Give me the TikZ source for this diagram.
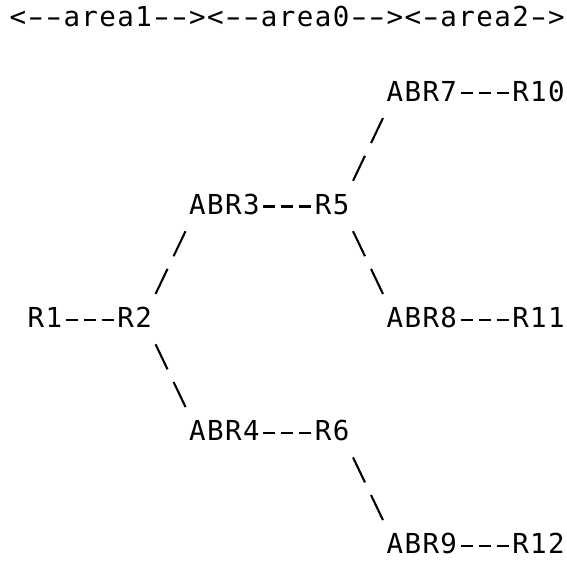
\documentclass[tikz,border=0pt]{standalone}
\usepackage{fontspec}
\usepackage{graphicx}
\newfontfamily\asciimono{DejaVu Sans Mono}
\usetikzlibrary{calc}
\newlength\gridpitch
\setlength\gridpitch{17.95pt}
\makeatletter
\def\gridtext#1{\gridtext@loop#1\relax}
\def\gridtext@loop#1{\ifx\relax#1\else
  \ifx-#1\makebox[\gridpitch][c]{\scalebox{1.6}[1]{-}}\else
  \makebox[\gridpitch][c]{#1}\fi
  \expandafter\gridtext@loop\fi}
\makeatother
\begin{document}
\begin{tikzpicture}[x=1pt,y=1pt,
  lbl/.style={inner sep=0pt, outer sep=0pt, anchor=base west,
    font=\asciimono\fontsize{27.5}{32}\selectfont},
  hyph/.style={line width=2.1pt, dash pattern=on 12pt off 5.95pt},
  slashes/.style={line width=2.1pt, dash pattern=on 27.73pt off 14.03pt}]
\fill[white] (0,0) rectangle (567,-562);
\useasboundingbox (0,0) rectangle (567,-562);
% header
\node[lbl] (hdr) at (9,-26) {\gridtext{<--area1--><--area0--><-area2->}};
% routers
\node[lbl] (ABR7) at (385.95,-101.4) {\gridtext{ABR7}};
\node[lbl] (R10)  at (511.6,-101.4)  {\gridtext{R10}};
\node[lbl] (ABR3) at (188.5,-214.5)  {\gridtext{ABR3}};
\node[lbl] (R5)   at (314.15,-214.5) {\gridtext{R5}};
\node[lbl] (R1)   at (26.95,-327.6)  {\gridtext{R1}};
\node[lbl] (R2)   at (116.7,-327.6)  {\gridtext{R2}};
\node[lbl] (ABR8) at (385.95,-327.6) {\gridtext{ABR8}};
\node[lbl] (R11)  at (511.6,-327.6)  {\gridtext{R11}};
\node[lbl] (ABR4) at (188.5,-440.7)  {\gridtext{ABR4}};
\node[lbl] (R6)   at (314.15,-440.7) {\gridtext{R6}};
\node[lbl] (ABR9) at (385.95,-553.8) {\gridtext{ABR9}};
\node[lbl] (R12)  at (511.6,-553.8)  {\gridtext{R12}};
% horizontal links ("---")
\draw[hyph] ($(R1.base east)+(2.975,8)$)   -- ($(R2.base west)+(-2.975,8)$);
\draw[hyph] ($(ABR3.base east)+(2.975,8)$) -- ($(R5.base west)+(-2.975,8)$);
\draw[hyph] ($(ABR4.base east)+(2.975,8)$) -- ($(R6.base west)+(-2.975,8)$);
\draw[hyph] ($(ABR7.base east)+(2.975,8)$) -- ($(R10.base west)+(-2.975,8)$);
\draw[hyph] ($(ABR8.base east)+(2.975,8)$) -- ($(R11.base west)+(-2.975,8)$);
\draw[hyph] ($(ABR9.base east)+(2.975,8)$) -- ($(R12.base west)+(-2.975,8)$);
% diagonal links ("/" and "\")
\draw[slashes] ($(ABR3.base west)+(-2.975,-16.7)$) -- ($(R2.base east)+(2.975,33.7)$);
\draw[slashes] ($(R2.base east)+(2.975,-16.7)$) -- ($(ABR4.base west)+(-2.975,33.7)$);
\draw[slashes] ($(R5.base east)+(2.975,33.7)$) -- ($(ABR7.base west)+(-2.975,-16.7)$);
\draw[slashes] ($(R5.base east)+(2.975,-16.7)$) -- ($(ABR8.base west)+(-2.975,33.7)$);
\draw[slashes] ($(R6.base east)+(2.975,-16.7)$) -- ($(ABR9.base west)+(-2.975,33.7)$);
\end{tikzpicture}
\end{document}
